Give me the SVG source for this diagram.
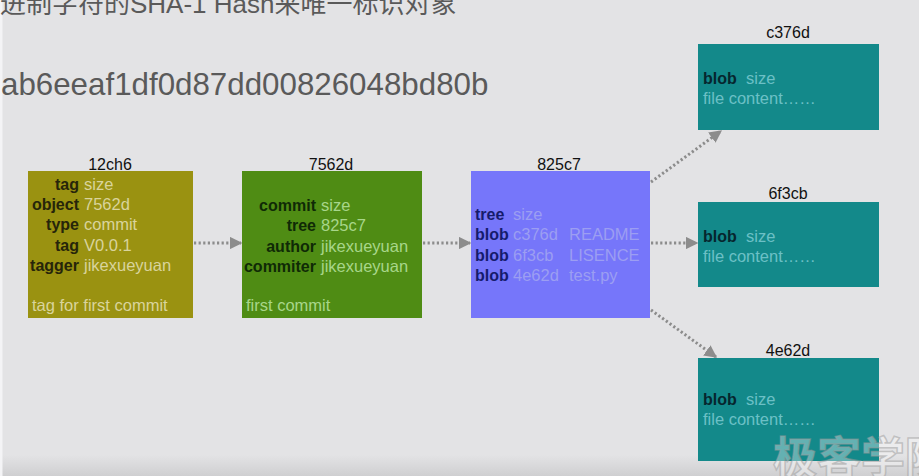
<svg xmlns="http://www.w3.org/2000/svg" width="919" height="476" viewBox="0 0 919 476">
<defs>
<style>
.title{font-family:"Liberation Sans",Arial,sans-serif;font-size:16px;fill:#111;text-anchor:middle}
.lbl{font-family:"Liberation Sans",Arial,sans-serif;font-size:16px;font-weight:bold}
.val{font-family:"Liberation Sans",Arial,sans-serif;font-size:16.5px}
.conn{fill:none;stroke:#8c8c8c;stroke-width:3;stroke-dasharray:2.2 2.4}
</style>
<marker id="arr" viewBox="0 0 10 10" refX="9" refY="5" markerWidth="4.2" markerHeight="4.2" markerUnits="strokeWidth" orient="auto">
<path d="M0,0 L10,5 L0,10 Z" fill="#8c8c8c"/>
</marker>
<linearGradient id="bot" x1="0" y1="0" x2="0" y2="1">
<stop offset="0" stop-color="#e3e3e5"/>
<stop offset="1" stop-color="#cfcfd1"/>
</linearGradient>
</defs>
<rect x="0" y="0" width="919" height="476" fill="#e3e3e5"/>
<rect x="0" y="455" width="919" height="21" fill="url(#bot)"/>
<rect x="0" y="0" width="2.5" height="476" fill="#f4f4f6"/>

<text x="0" y="13" font-family="Liberation Sans, Noto Sans CJK SC, sans-serif" font-size="26" fill="#5a5a5a">进制字符的SHA-1 Hash来唯一标识对象</text>
<text x="1" y="95" font-family="Liberation Sans, Arial, sans-serif" font-size="31.3" fill="#5a5a5a">ab6eeaf1df0d87dd00826048bd80b</text>

<g id="connectors">
<line class="conn" x1="194" y1="243" x2="241" y2="243" marker-end="url(#arr)"/>
<line class="conn" x1="423" y1="243" x2="470" y2="243" marker-end="url(#arr)"/>
<line class="conn" x1="651" y1="243" x2="697" y2="243" marker-end="url(#arr)"/>
<line class="conn" x1="651" y1="182" x2="721" y2="131" marker-end="url(#arr)"/>
<line class="conn" x1="651" y1="310" x2="716" y2="357" marker-end="url(#arr)"/>
</g>

<g id="tag-12ch6">
<rect x="28" y="171" width="165" height="147" fill="#9a9211"/>
<text class="title" x="110" y="170">12ch6</text>
<g class="lbl" fill="#26250a" text-anchor="end">
<text x="79" y="190">tag</text>
<text x="79" y="210">object</text>
<text x="79" y="230">type</text>
<text x="79" y="251">tag</text>
<text x="79" y="271">tagger</text>
</g>
<g class="val" fill="#d9d49c">
<text x="84" y="190">size</text>
<text x="84" y="210">7562d</text>
<text x="84" y="230">commit</text>
<text x="84" y="251">V0.0.1</text>
<text x="84" y="271">jikexueyuan</text>
<text x="32" y="311">tag for first commit</text>
</g>
</g>

<g id="commit-7562d">
<rect x="242" y="171" width="180" height="147" fill="#4f8c14"/>
<text class="title" x="331" y="170">7562d</text>
<g class="lbl" fill="#0f2a06" text-anchor="end">
<text x="316" y="211">commit</text>
<text x="316" y="231">tree</text>
<text x="316" y="252">author</text>
<text x="316" y="272">commiter</text>
</g>
<g class="val" fill="#a8d68a">
<text x="321" y="211">size</text>
<text x="321" y="231">825c7</text>
<text x="321" y="252">jikexueyuan</text>
<text x="321" y="272">jikexueyuan</text>
<text x="246" y="311">first commit</text>
</g>
</g>

<g id="tree-825c7">
<rect x="471" y="171" width="179" height="147" fill="#7676fa"/>
<text class="title" x="559" y="170">825c7</text>
<g class="lbl" fill="#151b6c">
<text x="475" y="220">tree</text>
<text x="475" y="240">blob</text>
<text x="475" y="261">blob</text>
<text x="475" y="281">blob</text>
</g>
<g class="val" fill="#9c9ef2">
<text x="513" y="220">size</text>
<text x="513" y="240">c376d</text>
<text x="513" y="261">6f3cb</text>
<text x="513" y="281">4e62d</text>
<text x="569" y="240">README</text>
<text x="569" y="261">LISENCE</text>
<text x="569" y="281">test.py</text>
</g>
</g>

<g id="blob-c376d">
<rect x="698" y="44" width="181" height="86" fill="#13898a"/>
<text class="title" x="788" y="38">c376d</text>
<text class="lbl" x="703" y="84" fill="#06262e">blob</text>
<text class="val" x="746" y="84" fill="#6cc0c6">size</text>
<text class="val" x="703" y="104" fill="#6cc0c6">file content……</text>
</g>

<g id="blob-6f3cb">
<rect x="698" y="202" width="181" height="85" fill="#13898a"/>
<text class="title" x="788" y="199">6f3cb</text>
<text class="lbl" x="703" y="242" fill="#06262e">blob</text>
<text class="val" x="746" y="242" fill="#6cc0c6">size</text>
<text class="val" x="703" y="262" fill="#6cc0c6">file content……</text>
</g>

<g id="blob-4e62d">
<rect x="698" y="358" width="181" height="103" fill="#13898a"/>
<text class="title" x="788" y="356">4e62d</text>
<text class="lbl" x="703" y="405" fill="#06262e">blob</text>
<text class="val" x="746" y="405" fill="#6cc0c6">size</text>
<text class="val" x="703" y="425" fill="#6cc0c6">file content……</text>
</g>

<text x="773" y="474" font-family="Noto Sans CJK SC, sans-serif" font-weight="bold" font-size="44" fill="#ffffff" fill-opacity="0.35" stroke="#9a9a9a" stroke-opacity="0.5" stroke-width="1.5">极客学院</text>
</svg>
